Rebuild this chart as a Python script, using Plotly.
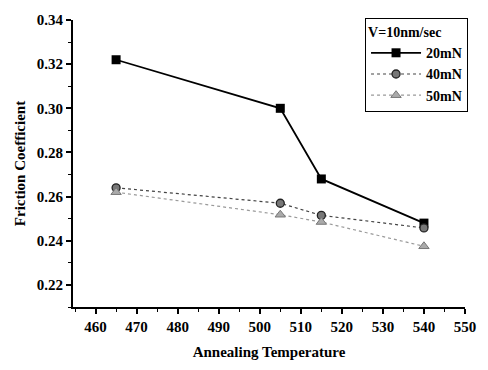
import plotly.graph_objects as go

temps = [465, 505, 515, 540]
f20 = [0.322, 0.300, 0.268, 0.248]
f40 = [0.264, 0.257, 0.2515, 0.2458]
f50 = [0.262, 0.2518, 0.2485, 0.2375]
names = ["20mN", "40mN", "50mN"]
ytick_vals = [0.22, 0.24, 0.26, 0.28, 0.30, 0.32, 0.34]
ytick_text = ["0.22", "0.24", "0.26", "0.28", "0.30", "0.32", "0.34"]
xtick_vals = [460, 470, 480, 490, 500, 510, 520, 530, 540, 550]

FONT = "Liberation Serif"

fig = go.Figure()
fig.add_trace(go.Scatter(
    x=temps, y=f20, name="<b>%s</b>" % names[0], mode="lines+markers",
    line=dict(color="black", width=1.8),
    marker=dict(symbol="square", size=9, color="black"),
))
fig.add_trace(go.Scatter(
    x=temps, y=f40, name="<b>%s</b>" % names[1], mode="lines+markers",
    line=dict(color="#444444", width=1.2, dash="dot"),
    marker=dict(symbol="circle", size=8, color="#777777",
                line=dict(color="#222222", width=1.3)),
))
fig.add_trace(go.Scatter(
    x=temps, y=f50, name="<b>%s</b>" % names[2], mode="lines+markers",
    line=dict(color="#999999", width=1.2, dash="dot"),
    marker=dict(symbol="triangle-up", size=9, color="#aaaaaa",
                line=dict(color="#777777", width=1)),
))

axis_common = dict(
    showline=True, linecolor="black", linewidth=2,
    ticks="outside", ticklen=5, tickwidth=1.5, tickcolor="black",
    showgrid=False, zeroline=False, mirror=False,
    tickfont=dict(family=FONT, size=15, color="black", weight="bold"),
)

fig.update_xaxes(
    range=[454.5, 550], tickvals=xtick_vals,
    ticktext=["<b>%d</b>" % v for v in xtick_vals],
    title=dict(text="<b>Annealing Temperature</b>", standoff=12,
               font=dict(family=FONT, size=15, color="black")),
    minor=dict(ticks="outside", ticklen=3, tickwidth=1.2, tickcolor="black", dtick=5, tick0=455),
    **axis_common,
)
fig.update_yaxes(
    range=[0.21, 0.34], tickvals=ytick_vals,
    ticktext=["<b>%s</b>" % t for t in ytick_text],
    title=dict(text="<b>Friction Coefficient</b>", standoff=8,
               font=dict(family=FONT, size=15, color="black")),
    minor=dict(ticks="outside", ticklen=3, tickwidth=1.2, tickcolor="black", dtick=0.01, tick0=0.21),
    **axis_common,
)

fig.update_layout(
    width=488, height=370,
    margin=dict(l=73, r=23, t=14, b=60),
    paper_bgcolor="white", plot_bgcolor="white",
    font=dict(family=FONT, color="black"),
    legend=dict(
        x=0.745, y=1.007, xanchor="left", yanchor="top",
        bordercolor="black", borderwidth=1, bgcolor="white",
        title=dict(text="<b>V=10nm/sec</b>", font=dict(family=FONT, size=14, color="black")),
        font=dict(family=FONT, size=14, color="black"),
        tracegroupgap=0, itemwidth=50,
    ),
    showlegend=True,
)

fig.write_html("out.html")
